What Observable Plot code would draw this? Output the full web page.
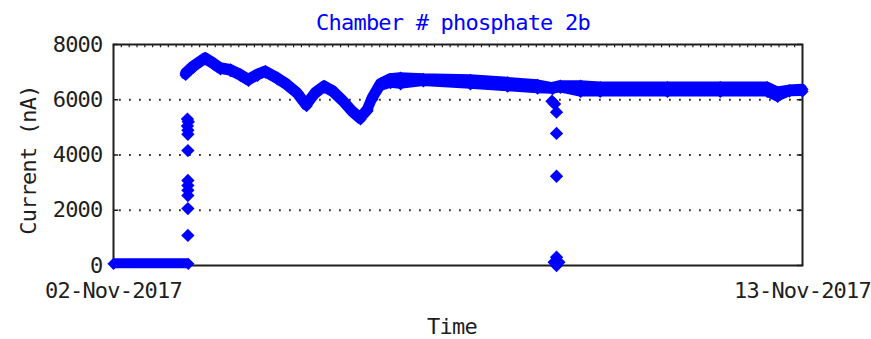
<!DOCTYPE html>
<html>
<head>
<meta charset="utf-8">
<script src="https://cdn.jsdelivr.net/npm/d3@7"></script>
<script src="https://cdn.jsdelivr.net/npm/@observablehq/plot@0.6"></script>
<style>
  html, body { margin: 0; padding: 0; background: #fff; }
</style>
</head>
<body>
<div id="chart"></div>
<script>
// ---- data ----
const titleText = "Chamber # phosphate 2b";
const xLabel = "Time";
const yLabel = "Current (nA)";
const xDomain = ["2017-11-02T00:00Z", "2017-11-13T00:00Z"];
const xTickDates = ["2017-11-02T00:00Z", "2017-11-13T00:00Z"];
const yTicks = [0, 2000, 4000, 6000, 8000];
const gridValues = [2000, 4000, 6000];

// main band: time, upper and lower edge of the noisy trace
const bandTime = [
  "2017-11-03T03:40Z", "2017-11-03T06:40Z", "2017-11-03T11:15Z", "2017-11-03T14:20Z",
  "2017-11-03T17:00Z", "2017-11-03T20:50Z", "2017-11-04T00:40Z", "2017-11-04T03:45Z",
  "2017-11-04T07:10Z", "2017-11-04T10:15Z", "2017-11-04T14:50Z", "2017-11-04T18:40Z",
  "2017-11-04T22:30Z", "2017-11-05T02:00Z", "2017-11-05T05:25Z", "2017-11-05T08:50Z",
  "2017-11-05T12:15Z", "2017-11-05T16:10Z", "2017-11-05T19:35Z", "2017-11-05T22:40Z",
  "2017-11-06T01:20Z", "2017-11-06T03:15Z", "2017-11-06T06:20Z", "2017-11-06T10:10Z",
  "2017-11-06T14:00Z", "2017-11-06T22:45Z", "2017-11-07T16:45Z", "2017-11-08T07:00Z",
  "2017-11-08T18:30Z", "2017-11-09T00:15Z", "2017-11-09T03:15Z", "2017-11-09T11:00Z",
  "2017-11-09T18:30Z", "2017-11-10T20:15Z", "2017-11-11T16:30Z", "2017-11-12T10:30Z",
  "2017-11-12T14:30Z", "2017-11-12T19:00Z", "2017-11-13T00:00Z"
];
const bandHigh = [
  6960, 7220, 7520, 7340, 7160, 7100, 6920, 6740,
  6920, 7040, 6800, 6560, 6260, 5830, 6260, 6500,
  6320, 5960, 5600, 5350, 5650, 6080, 6580, 6760,
  6800, 6760, 6720, 6630, 6540, 6440, 6510, 6510,
  6460, 6460, 6460, 6460, 6280, 6350, 6380
];
const bandLow = [
  6900, 7160, 7460, 7280, 7100, 7040, 6860, 6680,
  6860, 6980, 6740, 6500, 6200, 5770, 6200, 6440,
  6260, 5900, 5540, 5290, 5590, 6020, 6480, 6600,
  6560, 6660, 6560, 6470, 6400, 6380, 6430, 6280,
  6280, 6280, 6280, 6280, 6100, 6290, 6300
];

// baseline before the chamber was switched on
const zeroTime = ["2017-11-02T00:00Z", "2017-11-03T04:40Z"];
const zeroValue = [60, 60];

// isolated readings during the rise and the dip
const scatterTime = [
  "2017-11-03T04:20Z", "2017-11-03T04:40Z", "2017-11-03T04:20Z", "2017-11-03T04:30Z",
  "2017-11-03T04:30Z", "2017-11-03T04:30Z", "2017-11-03T04:30Z", "2017-11-03T04:30Z",
  "2017-11-03T04:30Z", "2017-11-03T04:30Z", "2017-11-03T04:30Z", "2017-11-03T04:30Z",
  "2017-11-09T00:00Z", "2017-11-09T01:00Z", "2017-11-09T01:45Z", "2017-11-09T01:45Z",
  "2017-11-09T01:45Z", "2017-11-09T01:45Z", "2017-11-09T00:50Z", "2017-11-09T02:40Z",
  "2017-11-09T01:45Z"
];
const scatterValue = [
  5300, 5200, 5050, 4900, 4750, 4160, 3080, 2900, 2720, 2530, 2060, 1090,
  5950, 5850, 5550, 4780, 3230, 300, 120, 120, 0
];

// ---- build tables ----
const band = bandTime.map((t, i) => ({t: new Date(t), hi: bandHigh[i], lo: bandLow[i]}));
const zero = zeroTime.map((t, i) => ({t: new Date(t), v: zeroValue[i]}));
const scatter = scatterTime.map((t, i) => ({t: new Date(t), v: scatterValue[i]}));
const x0 = new Date(xDomain[0]), x1 = new Date(xDomain[1]);
const topTicks = d3.utcHour.every(3).range(x0, x1);
const sideLen = 2 * 3600 * 1000;

const blue = "#0000ff";
const ink = "#1e1e1e";

const chart = Plot.plot({
  width: 871,
  height: 339,
  marginTop: 44,
  marginLeft: 113,
  marginRight: 69,
  marginBottom: 74,
  style: {fontFamily: "'DejaVu Sans Mono', monospace", fontSize: "22px", letterSpacing: "-0.8px", color: ink, background: "#fff"},
  x: {type: "utc", domain: [x0, x1]},
  y: {domain: [0, 8000]},
  marks: [
    Plot.gridY(gridValues, {stroke: "#333", strokeOpacity: 1, strokeWidth: 1.8, strokeDasharray: "1.8,8.2", strokeDashoffset: -6}),
    Plot.ruleX(topTicks, {x: d => d, y1: 8000, y2: 7880, stroke: ink, strokeWidth: 1.2}),
    Plot.ruleY(yTicks, {y: d => d, x1: x0, x2: new Date(+x0 + sideLen), stroke: ink, strokeWidth: 1.5}),
    Plot.ruleY(yTicks, {y: d => d, x1: new Date(+x1 - sideLen), x2: x1, stroke: ink, strokeWidth: 1.5}),
    Plot.frame({stroke: ink, strokeWidth: 2}),
    Plot.areaY(zero, {x: "t", y1: "v", y2: "v", fill: blue, stroke: blue, strokeWidth: 10, strokeLinejoin: "miter"}),
    Plot.areaY(band, {x: "t", y1: "lo", y2: "hi", fill: blue, stroke: blue, strokeWidth: 10, strokeLinejoin: "round"}),
    Plot.dot(band, {x: "t", y: "hi", symbol: "diamond2", r: 5.5, fill: blue}),
    Plot.dot(band, {x: "t", y: "lo", symbol: "diamond2", r: 5.5, fill: blue}),
    Plot.dot(zero, {x: "t", y: "v", symbol: "diamond2", r: 5.5, fill: blue}),
    Plot.dot(scatter, {x: "t", y: "v", symbol: "diamond2", r: 6, fill: blue}),
    Plot.axisY(yTicks, {tickSize: 0, tickPadding: 11, label: null, fill: ink, tickFormat: d => String(d)}),
    Plot.axisX(xTickDates.map(d => new Date(d)), {tickSize: 0, tickPadding: 17, label: null, fill: ink,
      tickFormat: d => d3.utcFormat("%d-%b-%Y")(d)}),
    Plot.text([titleText], {text: d => d, frameAnchor: "top", textAnchor: "middle", lineAnchor: "middle", dy: -22, dx: -5, fill: blue}),
    Plot.text([xLabel], {text: d => d, frameAnchor: "bottom", textAnchor: "middle", lineAnchor: "middle", dy: 61, dx: -6, fill: ink}),
    Plot.text([yLabel], {text: d => d, frameAnchor: "left", textAnchor: "middle", lineAnchor: "middle", rotate: -90, dx: -85, dy: 5, fill: ink})
  ]
});
document.getElementById("chart").appendChild(chart);
</script>
</body>
</html>
